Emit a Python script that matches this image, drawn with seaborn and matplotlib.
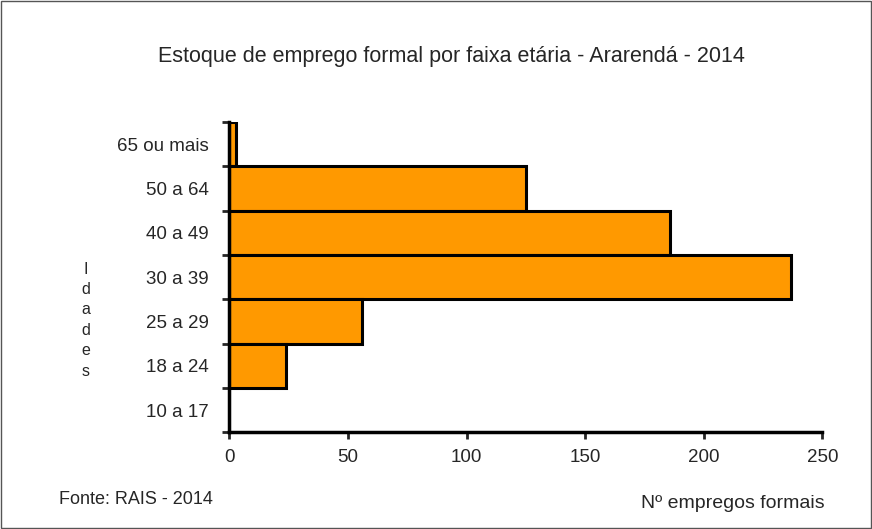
import pandas as pd
import seaborn as sns
import matplotlib.pyplot as plt
from matplotlib.patches import Rectangle

# dados
faixas = ["65 ou mais", "50 a 64", "40 a 49", "30 a 39", "25 a 29", "18 a 24", "10 a 17"]
empregos = [3, 125, 186, 237, 56, 24, 0]
xticks = [0, 50, 100, 150, 200, 250]

df = pd.DataFrame({"faixa": faixas, "empregos": empregos})

sns.set_style("white")
plt.rcParams["font.family"] = ["Liberation Sans", "DejaVu Sans"]

fig = plt.figure(figsize=(8.72, 5.29), dpi=100)
ax = fig.add_axes([0.263, 0.183, 0.68, 0.586])

sns.barplot(data=df, x="empregos", y="faixa", order=faixas, orient="h",
            width=1, color="#FF9900", edgecolor="black", linewidth=2.2,
            saturation=1, ax=ax)

ax.set_xlim(0, 250)
ax.set_ylim(len(faixas) - 0.5, -0.5)
ax.set_xticks(xticks)
ax.set_xlabel("")
ax.set_ylabel("")

# ticks do eixo y nas fronteiras das categorias
ax.set_yticks([i - 0.5 for i in range(len(faixas) + 1)], minor=True)
ax.tick_params(axis="y", which="major", length=0, pad=15, labelsize=13.5)
ax.tick_params(axis="y", which="minor", length=5, width=2, direction="out", left=True)
ax.tick_params(axis="x", length=5, width=2, direction="out", bottom=True, labelsize=13.5, pad=7)

for s in ["top", "right"]:
    ax.spines[s].set_visible(False)
for s in ["left", "bottom"]:
    ax.spines[s].set_linewidth(2.5)
    ax.spines[s].set_color("black")

fig.text(0.518, 0.893, "Estoque de emprego formal por faixa etária - Ararendá - 2014",
         ha="center", va="center", fontsize=15.5)
fig.text(0.098, 0.395, "I\nd\na\nd\ne\ns", ha="center", va="center", fontsize=11.5,
         linespacing=1.45)
fig.text(0.068, 0.056, "Fonte: RAIS - 2014", ha="left", va="center", fontsize=13)
fig.text(0.946, 0.048, "Nº empregos formais", ha="right", va="center", fontsize=14)

fig.patches.append(Rectangle((0.001, 0.001), 0.998, 0.998, transform=fig.transFigure,
                             fill=False, edgecolor="#555555", linewidth=1))

fig.savefig("out.png", dpi=100)
